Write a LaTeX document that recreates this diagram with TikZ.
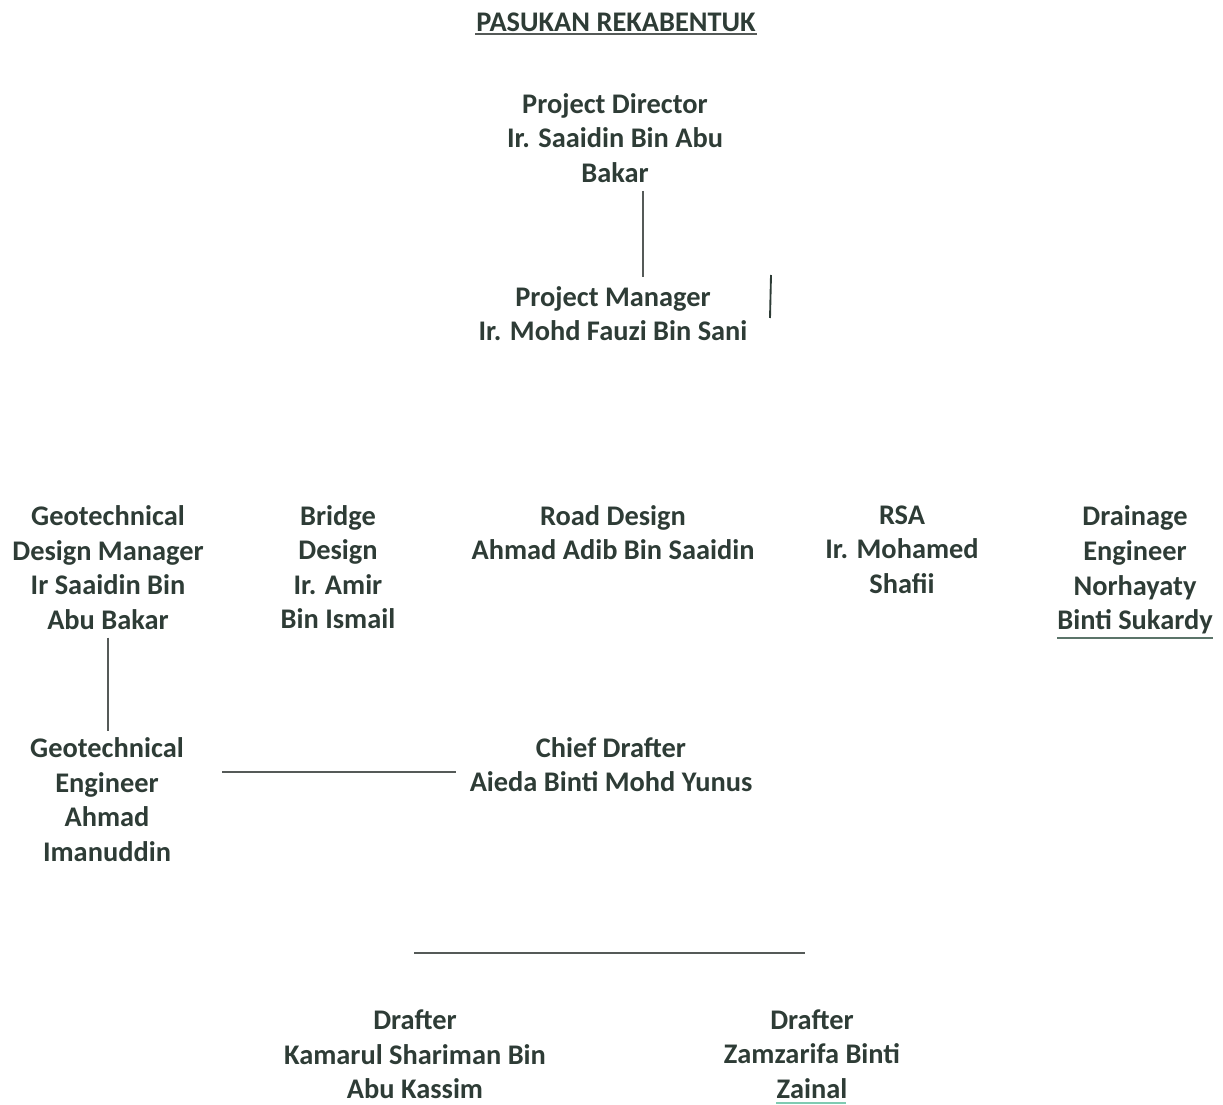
\documentclass[tikz,border=0pt]{standalone}
\usepackage{fontspec}
\setmainfont{Carlito}
\usepackage{xcolor}
\usetikzlibrary{positioning}
\definecolor{inkgreen}{HTML}{2E3C36}
\definecolor{linegray}{HTML}{555A58}
\definecolor{ulgray}{HTML}{5B7469}
\definecolor{ulteal}{HTML}{7FCBB2}
\tikzset{
  member/.style={align=center,text=inkgreen,inner sep=0pt,
    font=\fontsize{21.3}{25.9}\selectfont\bfseries},
  link/.style={draw=linegray,line width=0.8pt},
  uline/.style={line width=2pt}
}

\begin{document}
\begin{tikzpicture}[x=0.75pt,y=-0.75pt]
      \useasboundingbox (0,0) rectangle (1223,1105);
      \node[member] (title) at (616,22) {PASUKAN REKABENTUK};
      \node[member] (dir) at (615,138) {Project Director\\Ir. Saaidin Bin Abu\\Bakar};
      \node[member] (pm) at (613,313.5) {Project Manager\\Ir. Mohd Fauzi Bin Sani};
      \node[member] (gdm) at (108,567.5) {Geotechnical\\Design Manager\\Ir Saaidin Bin\\Abu Bakar};
      \node[member] (bd) at (338,567) {Bridge\\Design\\Ir. Amir\\Bin Ismail};
      \node[member] (rd) at (613,532.5) {Road Design\\Ahmad Adib Bin Saaidin};
      \node[member] (rsa) at (902,549.5) {RSA\\Ir. Mohamed\\Shafii};
      \node[member] (de) at (1135,570) {Drainage\\Engineer\\Norhayaty\\Binti Sukardy};
      \node[member] (ge) at (107,799.5) {Geotechnical\\Engineer\\Ahmad\\Imanuddin};
      \node[member] (cd) at (611,764.5) {Chief Drafter\\Aieda Binti Mohd Yunus};
      \node[member] (dr1) at (415,1054.5) {Drafter\\Kamarul Shariman Bin\\Abu Kassim};
      \node[member] (dr2) at (812,1054) {Drafter\\Zamzarifa Binti\\Zainal};
      % loose ends
      \coordinate (geR) at (222,772);
      \coordinate (cdL) at (456,772);
      \coordinate (barL) at (414,953);
      \coordinate (barR) at (805,953);
      \coordinate (tickT) at (771,275);
      \coordinate (tickB) at (770,318);
      % underlines
      \draw[line width=1.6pt,draw=linegray] (475,34) -- (757,34);
      \draw[uline,draw=ulgray] (1057,638) -- (1213,638);
      \draw[uline,draw=ulteal] (776,1103) -- (846,1103);
      % connectors
      \path[link]
      ([xshift=21pt,yshift=-6pt]dir.south) -- ([xshift=22.5pt,yshift=7pt]pm.north)
      (gdm.south) ++(0,8) -- ([yshift=5pt]ge.north -| gdm.south)
      (geR) -- (cdL)
      (barL) -- (barR)
      ;
      \draw[line width=1.4pt,draw=inkgreen] (tickT) -- (tickB);
    \end{tikzpicture}
\end{document}
